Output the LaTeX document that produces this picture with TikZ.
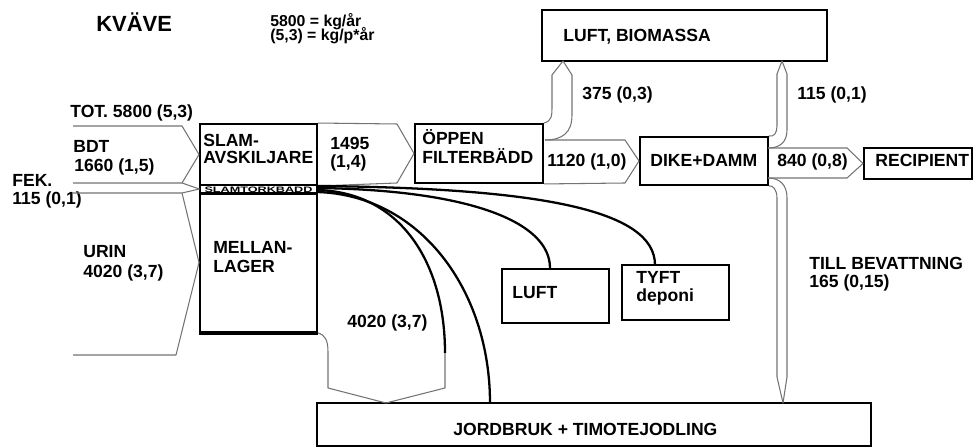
\documentclass[tikz,border=0pt]{standalone}
\usepackage{fontspec}
\usepackage{graphicx}
\setmainfont{Liberation Sans}
\usetikzlibrary{fit}
\begin{document}
\begin{tikzpicture}[x=0.02cm,y=-0.02cm,
  box/.style={draw, line width=1.1pt, inner sep=0pt},
  flow/.style={draw=black!55, line width=0.6pt, line join=round},
  pipe/.style={draw, line width=1.3pt},
  lbl/.style={anchor=base west, inner sep=0pt, font=\bfseries\fontsize{10}{11}\selectfont},
  small/.style={anchor=base west, inner sep=0pt, font=\bfseries\fontsize{9}{10}\selectfont}]
\useasboundingbox (0,0) rectangle (977,448);

% boxes
\node[box, fit={(542,10) (827,61)}] (biom) {};
\node[box, fit={(200,124) (317,185)}] (slam) {};
\node[box, line width=0.8pt, fit={(200,185) (317,193)}] (strip) {};
\node[box, fit={(200,193) (317,332)}] (mellan) {};
\draw[line width=2pt] (mellan.south west) -- (mellan.south east);
\draw[line width=1.8pt] (strip.south west) -- (strip.south east);
\node[box, fit={(415,124) (543,183)}] (oppen) {};
\node[box, fit={(640,137) (768,185)}] (dike) {};
\node[box, fit={(864,148) (972,179)}] (recip) {};
\node[box, fit={(502,269) (609,323)}] (luft) {};
\node[box, fit={(622,265) (729,320)}] (tyft) {};
\node[box, fit={(317,403) (871,446)}] (jord) {};

% texts
\node[anchor=base west, inner sep=0pt, font=\bfseries\fontsize{12.5}{14}\selectfont] (title) at (96,32) {KVÄVE};
\node[small] (u1) at (270,27) {5800 = kg/år};
\node[small] (u2) at (270,41) {(5,3) = kg/p*år};
\node[lbl] (tot) at (70,118) {TOT. 5800 (5,3)};
\node[lbl] (bdt1) at (73,153) {BDT};
\node[lbl] (bdt2) at (74,172) {1660 (1,5)};
\node[lbl] (fek1) at (12,187) {FEK.};
\node[lbl] (fek2) at (12,205) {115 (0,1)};
\node[lbl] (urin1) at (83,258) {URIN};
\node[lbl] (urin2) at (83,278) {4020 (3,7)};
\node[lbl] (slam1) at (203,147) {SLAM-};
\node[lbl] (slam2) at (203,164) {AVSKILJARE};
\node[anchor=center, inner sep=0pt, font=\bfseries\fontsize{4.5}{5}\selectfont] (striptxt) at (strip.center) {\scalebox{1.6}[1]{SLAMTORKBÄDD}};
\node[lbl] (mel1) at (213,254) {MELLAN-};
\node[lbl] (mel2) at (213,273) {LAGER};
\node[lbl] (f1495a) at (330,150) {1495};
\node[lbl] (f1495b) at (330,168) {(1,4)};
\node[lbl] (op1) at (422,145) {ÖPPEN};
\node[lbl] (op2) at (422,164) {FILTERBÄDD};
\node[lbl] (f1120) at (547,167) {1120 (1,0)};
\node[lbl] (diket) at (650,167) {DIKE+DAMM};
\node[lbl] (f840) at (777,167) {840 (0,8)};
\node[lbl] (rect) at (875,167) {RECIPIENT};
\node[lbl] (f375) at (582,100) {375 (0,3)};
\node[lbl] (f115) at (797,100) {115 (0,1)};
\node[lbl] (biomt) at (563,42) {LUFT, BIOMASSA};
\node[lbl] (bev1) at (809,270) {TILL BEVATTNING};
\node[lbl] (bev2) at (809,288) {165 (0,15)};
\node[lbl] (lufttxt) at (512,299) {LUFT};
\node[lbl] (tyft1) at (636,284) {TYFT};
\node[lbl] (tyft2) at (636,302) {deponi};
\node[lbl] (f4020) at (347,328) {4020 (3,7)};
\node[lbl] (jordt) at (453,436) {JORDBRUK + TIMOTEJODLING};

% inflow arrows
\draw[flow] (73,126) -- (182,126) -- (slam.west) -- (182,183) -- (73,183);
\draw[flow] (182,183) -- (strip.west) -- (182,193) -- (73,193);
\draw[flow] (182,193) -- (mellan.west) -- (176,355) -- (73,355);

% 1495
\draw[flow] (slam.north east) -- (397,124) -- (oppen.west) -- (397,183) -- (slam.south east);
% 375
\draw[flow] (oppen.north east) .. controls (552,121) and (552,115) .. (552,108) -- (552,75) -- (563,61) -- (572,75) -- (572,115) .. controls (572,133) and (562,140) .. (545,140);
% 1120
\draw[flow] (545,140) -- (625,140) -- (dike.west) -- (625,183) -- (oppen.south east);
% 115
\draw[flow] (dike.north east) .. controls (774,137) and (777,133) .. (777,126) -- (777,74) -- (782,61) -- (787,74) -- (787,130) .. controls (787,143) and (779,148) .. (768,148);
% 840
\draw[flow] (768,148) -- (847,148) -- (recip.west) -- (847,178) -- (768,178);
% bevattning
\draw[flow] (768,178) .. controls (780,178) and (787,185) .. (787,198) -- (787,377) -- (783,403) -- (777,377) -- (777,198) .. controls (777,190) and (773,185) .. (dike.south east);
% 4020 out
\draw[flow] (mellan.south east) .. controls (325,335) and (328,340) .. (328,352) -- (328,388) -- (386,403) -- (445,388) -- (445,353);

% pipes from slamtorkbadd
\draw[pipe] (317,190) .. controls (400,192) and (445,262) .. (445,353);
\draw[pipe] (317,192) .. controls (420,195) and (490,290) .. (490,403);
\draw[pipe] (317,188) .. controls (470,190) and (550,222) .. (luft.north -| 550,0);
\draw[pipe] (317,186) .. controls (540,188) and (655,210) .. (655,265);
\end{tikzpicture}
\end{document}
